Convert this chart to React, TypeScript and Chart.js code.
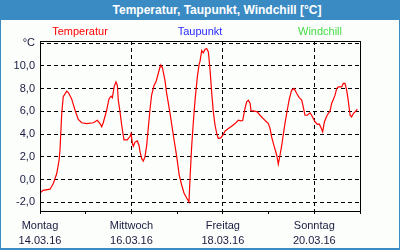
import React, { useEffect, useRef } from "react";
import { Chart, registerables } from "chart.js";

Chart.register(...registerables);

const titleText = "Temperatur, Taupunkt, Windchill [°C]";
const seriesNames = ["Temperatur", "Taupunkt", "Windchill"];
const seriesColors = ["#ff0000", "#2b2bff", "#44dd44"];

const hours = [
  0, 1.6, 5.25, 7.0, 8.8, 10.0, 10.5, 11.4, 12.2, 14.0, 14.9, 16.6, 18.4, 20.1, 21.9, 24.5, 28.0, 30.1, 31.5, 32.4,
  33.2, 35.0, 36.2, 37.3, 38.0, 38.9, 39.9, 40.6, 41.1, 42.0, 42.9, 43.7, 44.1, 45.8, 47.3, 47.8, 48.5, 49.0, 49.9,
  51.1, 52.0, 52.5, 53.4, 54.2, 55.1, 56.0, 56.9, 57.8, 58.6, 59.9, 60.9, 62.1, 63.0, 63.5, 64.2, 65.6, 66.5, 68.3,
  70.0, 71.8, 73.1, 74.4, 75.6, 77.0, 78.2, 78.8, 79.6, 80.5, 81.4, 82.6, 83.6, 84.0, 84.9, 85.7, 86.6, 87.5, 88.4,
  89.3, 90.1, 91.0, 91.9, 92.8, 93.6, 94.9, 96.2, 97.1, 98.9, 100.6, 102.4, 104.1, 105.4, 106.4, 107.6, 108.5, 109.4,
  110.3, 110.8, 112.0, 114.1, 115.5, 117.2, 119.0, 119.9, 120.8, 121.6, 122.9, 124.3, 125.1, 126.0, 126.9, 127.8,
  128.6, 129.8, 130.9, 132.1, 133.4, 134.8, 136.1, 137.4, 138.2, 139.1, 140.3, 141.8, 142.6, 143.5, 144.4, 145.6,
  146.6, 147.5, 148.4, 149.3, 150.5, 151.3, 152.3, 153.1, 154.0, 154.9, 155.8, 156.6, 158.4, 159.2, 160.1, 161.0,
  161.8, 162.8, 163.6, 164.5, 165.4, 166.6,
];

const temperatur = [
  -1.2, -0.95, -0.85, -0.35, 0.53, 1.7, 2.6, 5.8, 7.3, 7.78, 7.66, 7.1, 6.1, 5.3, 5.0, 4.93, 5.0, 5.22, 4.93, 4.65,
  5.0, 6.1, 7.1, 7.34, 7.19, 8.16, 8.6, 8.3, 7.0, 5.96, 4.78, 3.9, 3.5, 3.5, 3.81, 4.05, 3.17, 2.93, 3.3,
  3.4, 3.0, 2.45, 1.85, 1.62, 1.99, 3.0, 4.63, 6.25, 7.43, 8.3, 8.6, 9.34, 9.92, 10.07, 9.9, 8.75, 7.58, 5.81,
  3.9, 1.99, 0.38, -0.5, -1.18, -1.62, -1.97, 0.23, 2.87, 5.07, 6.99, 9.04, 10.2, 10.4, 11.35, 11.15, 11.45, 11.54, 11.24,
  9.63, 7.72, 5.96, 4.78, 4.05, 3.61, 3.67, 3.96, 4.26, 4.49, 4.7, 4.93, 5.22, 5.16, 5.2, 6.25, 6.84, 6.99,
  6.7, 6.04, 6.04, 5.96, 5.66, 5.37, 5.07, 4.93, 4.49, 3.75, 2.95, 2.14, 1.35, 2.14, 3.0, 4.05,
  4.93, 6.1, 7.1, 7.87, 8.02, 7.58, 7.22, 6.99, 6.4, 5.66, 5.66, 5.87, 5.66, 5.37, 5.07, 4.87,
  4.9, 4.58, 4.2, 5.07, 5.58, 5.81, 6.04, 6.7, 7.05, 7.43, 8.02, 8.16, 8.16, 8.46, 8.46, 7.87,
  6.99, 5.66, 5.52, 5.81, 5.96, 6.19,
];
const taupunkt: number[] = [];
const windchill: number[] = [];

const xTicks = [0, 24, 48, 72, 96, 120, 144, 168];
const dayNames = ["Montag", "Mittwoch", "Freitag", "Sonntag"];
const dateLabels = ["14.03.16", "16.03.16", "18.03.16", "20.03.16"];
const yTicks = [-2, 0, 2, 4, 6, 8, 10, 12];
const yUnitLabel = "°C";

const FONT = "'Liberation Sans', Arial, sans-serif";
const TEXT = "#1a1a40";

const frameLegend = {
  id: "frameLegend",
  afterDraw(chart: any) {
    const { ctx, chartArea } = chart;
    ctx.save();
    ctx.strokeStyle = "#000";
    ctx.lineWidth = 1;
    ctx.setLineDash([]);
    ctx.strokeRect(
      Math.round(chartArea.left) + 0.5,
      Math.round(chartArea.top) + 0.5,
      Math.round(chartArea.right - chartArea.left),
      Math.round(chartArea.bottom - chartArea.top)
    );
    const fr = [1 / 8, 1 / 2, 7 / 8];
    ctx.font = `11px ${FONT}`;
    ctx.textAlign = "center";
    ctx.textBaseline = "middle";
    chart.data.datasets.forEach((ds: any, i: number) => {
      ctx.fillStyle = ds.borderColor;
      ctx.fillText(ds.label, chartArea.left + (chartArea.right - chartArea.left) * fr[i], 12);
    });
    ctx.restore();
  },
};

function ChartCanvas() {
  const ref = useRef<HTMLCanvasElement>(null);
  useEffect(() => {
    const series = [temperatur, taupunkt, windchill];
    const chart = new Chart(ref.current!, {
      type: "line",
      data: {
        datasets: seriesNames.map((name, i) => ({
          label: name,
          data: series[i].map((v, j) => ({ x: hours[j], y: v })),
          borderColor: seriesColors[i],
          backgroundColor: seriesColors[i],
          borderWidth: 1.2,
          pointRadius: 0,
          tension: 0,
          fill: false,
        })),
      },
      options: {
        animation: false,
        responsive: true,
        maintainAspectRatio: false,
        layout: { padding: { top: 21, right: 39, left: 0, bottom: 0 } },
        plugins: { legend: { display: false }, title: { display: false }, tooltip: { enabled: false } },
        scales: {
          x: {
            type: "linear",
            min: 0,
            max: 168,
            afterBuildTicks: (s: any) => {
              s.ticks = xTicks.map((v) => ({ value: v }));
            },
            afterFit: (s: any) => {
              s.height = 37;
            },
            border: { display: false, dash: [4, 3] },
            grid: {
              color: (c: any) => {
                const v = c.tick ? c.tick.value : 0;
                return v % 48 === 0 && v > 0 && v < 168 ? "#000" : "rgba(0,0,0,0)";
              },
              tickColor: "#000",
              tickLength: 3,
              tickBorderDash: [],
              drawTicks: true,
              lineWidth: 1,
            },
            ticks: {
              autoSkip: false,
              maxRotation: 0,
              padding: 4,
              color: TEXT,
              font: { family: FONT, size: 11, lineHeight: "15px" } as any,
              callback: (v: any) => {
                const n = Number(v);
                if (n % 48 === 0 && n < 168) {
                  const k = n / 48;
                  return [dayNames[k], dateLabels[k]];
                }
                return "";
              },
            },
          },
          y: {
            type: "linear",
            min: -2.77,
            max: 12.2,
            afterBuildTicks: (s: any) => {
              s.ticks = yTicks.map((v) => ({ value: v }));
            },
            afterFit: (s: any) => {
              s.width = 39;
            },
            border: { display: false, dash: [4, 3] },
            grid: { color: "#000", drawTicks: false, lineWidth: 1 },
            ticks: {
              padding: 5,
              color: TEXT,
              font: { family: FONT, size: 11 },
              callback: (v: any) => {
                const n = Number(v);
                if (n === 12) return yUnitLabel;
                return n.toFixed(1).replace(".", ",");
              },
            },
          },
        },
      },
      plugins: [frameLegend],
    } as any);
    return () => chart.destroy();
  }, []);
  return <canvas ref={ref} />;
}

export default function App() {
  return (
    <div
      style={{
        position: "fixed",
        left: 0,
        top: 0,
        width: 400,
        height: 250,
        background: "#3a8bc4",
        overflow: "hidden",
      }}
    >
      <div
        style={{
          position: "absolute",
          left: 0,
          top: 0,
          width: 400,
          height: 20,
          boxSizing: "border-box",
          paddingLeft: 34,
          display: "flex",
          alignItems: "center",
          justifyContent: "center",
          color: "#ffffff",
          fontFamily: FONT,
          fontWeight: "bold",
          fontSize: 12,
          whiteSpace: "nowrap",
        }}
      >
        {titleText}
      </div>
      <div
        style={{
          position: "absolute",
          left: 1,
          top: 20,
          width: 398,
          height: 228,
          background: "#fbfefb",
        }}
      >
        <ChartCanvas />
      </div>
    </div>
  );
}
